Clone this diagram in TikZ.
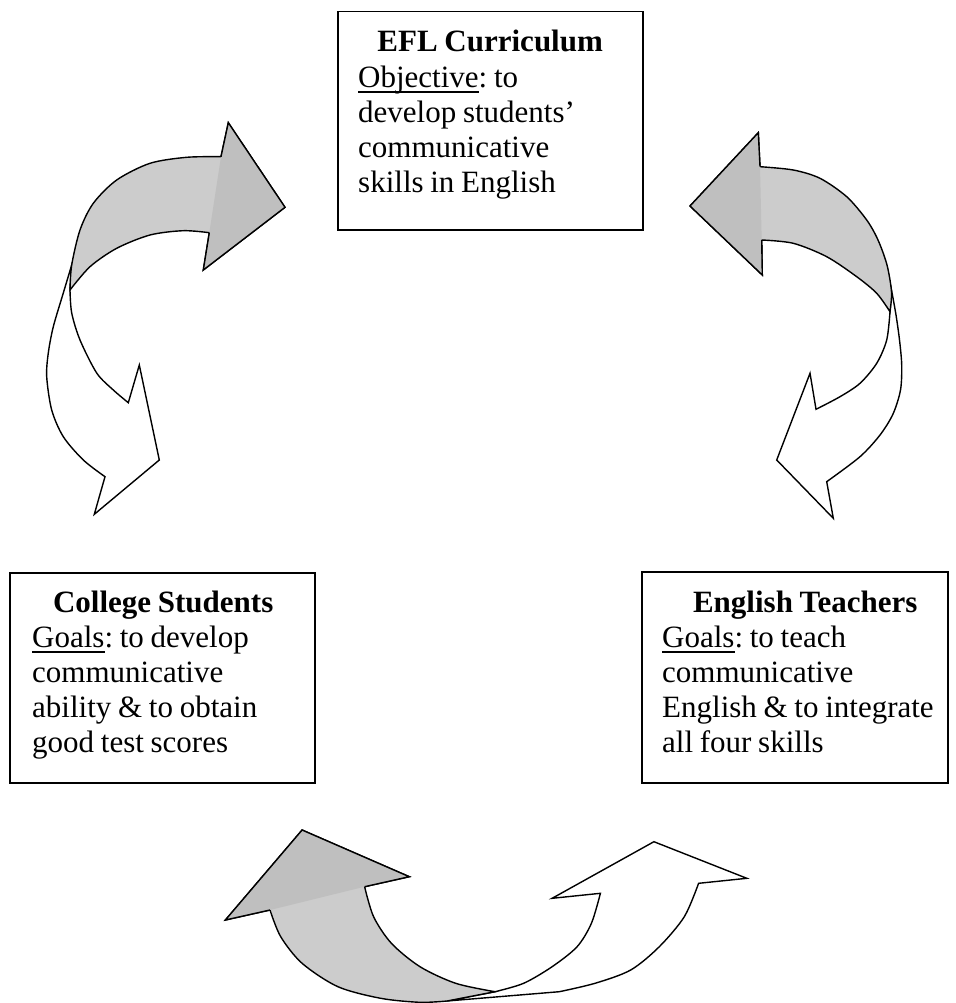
\documentclass[tikz,border=0pt]{standalone}
\usepackage{fontspec}
\setmainfont{Liberation Serif}
\frenchspacing
\definecolor{bandgray}{HTML}{CCCCCC}
\definecolor{headgray}{HTML}{BFBFBF}
\newcommand\myul[1]{\leavevmode\setbox0\hbox{#1}\rlap{\rule[-6pt]{\wd0}{1.8pt}}\box0}
\newcommand\tightsp{\spaceskip=6.7pt plus 1pt minus 1pt\relax}
\tikzset{
  box/.style={draw, line width=1.5pt, inner sep=0pt, anchor=north west},
  txt/.style={inner sep=0pt, anchor=base west, align=left,
    font=\fontsize{31}{35.2}\selectfont},
  shp/.style={line width=1.4pt, line join=miter},
}
\begin{document}
\begin{tikzpicture}[x=1pt,y=-1pt]
\useasboundingbox (0,0) rectangle (955,1003);

% ---------- boxes ----------
\node[box, minimum width=305pt, minimum height=218pt] (eflbox) at (337,11) {};
\node[box, minimum width=305pt, minimum height=210pt] (stubox) at (9,572) {};
\node[box, minimum width=306pt, minimum height=211pt] (teabox) at (641,571) {};

\node[txt, text width=264pt] (efltxt) at (358,52)
  {\tightsp\makebox[\linewidth]{\textbf{EFL Curriculum}}\\ \myul{Objective}: to\\ develop students’\\ communicative\\ skills in English};
\node[txt, text width=262pt] (stutxt) at (32,612)
  {\tightsp\makebox[\linewidth]{\textbf{College Students}}\\ \myul{Goals}: to develop\\ communicative\\ ability \& to obtain\\ good test scores};
\node[txt, text width=286pt] (teatxt) at (662,612)
  {\tightsp\makebox[\linewidth]{\textbf{English Teachers}}\\ \myul{Goals}: to teach\\ communicative\\ English \& to integrate\\ all four skills};

% ---------- left arrow ----------
\filldraw[shp, fill=white] (71.7,265) -- plot[smooth] coordinates {(71.7,265) (63.3,293) (53.3,326.7) (48.3,353) (46.7,376.7) (51.7,410) (63.3,436.7) (83.3,460) (105,476.7)}
  -- (94.3,514.3) -- (159.3,460) -- (139.3,365) -- (128.3,402.7)
  -- plot[smooth] coordinates {(128.3,402.7) (113.3,390) (96.7,373) (80,340) (71.7,313) (70,290)} -- cycle;
\filldraw[shp, fill=bandgray] (70,290) -- plot[smooth] coordinates {(70,290) (71.7,265) (80,230) (93.3,203.3) (116.7,180) (150,163.3) (186.7,157.3) (221,156.7)}
  -- (228.3,122.7) -- (285,207.3) -- (203.3,270) -- (209.3,232.7)
  -- plot[smooth] coordinates {(209.3,232.7) (183.3,230.7) (150,235) (116.7,248.3) (90,266.7) (70,290)} -- cycle;
\fill[headgray] (221,156.7) -- (228.3,122.7) -- (285,207.3) -- (203.3,270) -- (209.3,232.7) -- cycle;
\draw[shp] (221,156.7) -- (228.3,122.7) -- (285,207.3) -- (203.3,270) -- (209.3,232.7);

% ---------- right arrow ----------
\filldraw[shp, fill=white] (891.5,290) -- plot[smooth] coordinates {(891.5,290) (896,315) (899.5,340) (901.7,365) (900.5,390) (893,414) (880,435) (860,456.7) (826.7,481.7)}
  -- (833.3,518.3) -- (776.7,460) -- (810,373.3) -- (816,409.3)
  -- plot[smooth] coordinates {(816,409.3) (840,396.7) (860,383.3) (876.7,363.3) (886.7,340) (890,311.7)} -- cycle;
\filldraw[shp, fill=bandgray] (890,311.7) -- plot[smooth] coordinates {(890,311.7) (891.5,292) (887,265) (878,240) (866.7,220) (846.7,196.7) (820,178.3) (793.3,170) (760,166.7)}
  -- (758.3,132.7) -- (690,206) -- (762.3,275) -- (761.7,240)
  -- plot[smooth] coordinates {(761.7,240) (793.3,243.3) (826.7,256.7) (856.7,276.7) (876.7,293.3) (890,311.7)} -- cycle;
\fill[headgray] (760,166.7) -- (758.3,132.7) -- (690,206) -- (762.3,275) -- (761.7,240) -- cycle;
\draw[shp] (760,166.7) -- (758.3,132.7) -- (690,206) -- (762.3,275) -- (761.7,240);

% ---------- bottom arrows ----------
\filldraw[shp, fill=white] (447,1001) -- (559.3,991.7) -- plot[smooth] coordinates {(559.3,991.7) (595,983.3) (630.7,970) (659.3,946.7) (684.3,916.7) (698.6,883.3)}
  -- (746.8,878.3) -- (653.9,841.7) -- (552.1,898.3) -- (600.4,893.3)
  -- plot[smooth] coordinates {(600.4,893.3) (591.4,923.3) (577.1,946.7) (552.1,966.7) (523.6,983.3) (495,991.7)} -- cycle;
\filldraw[shp, fill=bandgray] (270,910) -- (225.4,920) -- (302.1,830) -- (409.3,876.7) -- (364.6,886.7)
  -- plot[smooth] coordinates {(364.6,886.7) (373.6,916.7) (391.4,943.3) (420,966.7) (455.7,983.3) (495,991.7)}
  -- (447,1001) -- plot[smooth] coordinates {(447,1001) (420,1002.3) (380.7,998.3) (337.9,986.7) (302.1,963.3) (280.7,936.7) (270,910)} -- cycle;
\fill[headgray] (270,910) -- (225.4,920) -- (302.1,830) -- (409.3,876.7) -- (364.6,886.7) -- cycle;
\draw[shp] (270,910) -- (225.4,920) -- (302.1,830) -- (409.3,876.7) -- (364.6,886.7);
\end{tikzpicture}
\end{document}
